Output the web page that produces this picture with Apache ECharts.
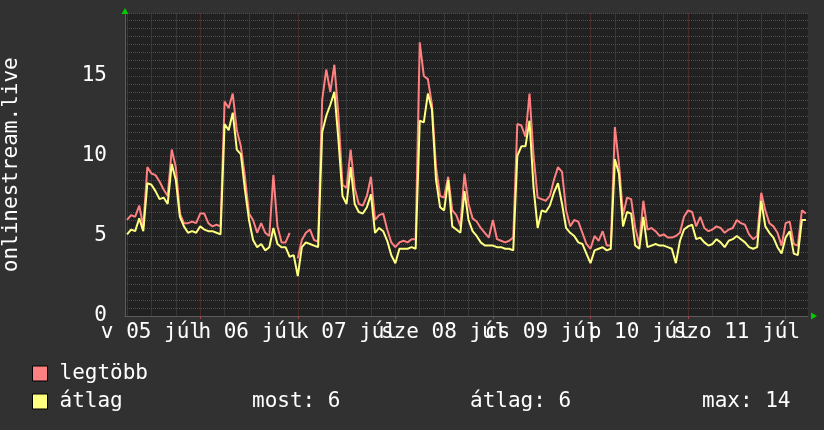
<!DOCTYPE html>
<html><head><meta charset="utf-8">
<script src="https://cdn.jsdelivr.net/npm/echarts@6/dist/echarts.min.js"></script>
<style>html,body{margin:0;padding:0;background:#313131}#c{width:824px;height:430px}</style>
</head><body><div id="c"></div>
<script>
// Hours counted from Sun 05 Jul 00:00; first sample at 06:00, one sample per hour
const startHour = 6;
const dayLabels = ['v 05 júl', 'h 06 júl', 'k 07 júl', 'sze 08 júl', 'cs 09 júl', 'p 10 júl', 'szo 11 júl'];
const dayLabelHours = [12, 36, 60, 84, 108, 132, 156];
const midnightHours = [24, 48, 72, 96, 120, 144, 168];
const minorGridHours = [6, 12, 18, 30, 36, 42, 54, 60, 66, 78, 84, 90, 102, 108, 114, 126, 132, 138, 150, 156, 162];
const yLabelValues = [0, 5, 10, 15];
const seriesNames = ['legtöbb', 'átlag'];
const statLabels = ['most: 6', 'átlag: 6', 'max: 14'];

// legtöbb (max)
const maxValues = [
  6.0, 6.3, 6.2, 6.9, 5.6, 9.3, 8.9, 8.8, 8.4, 7.9, 7.5, 10.4, 9.3, 6.4, 5.8, 5.8, 5.9, 5.8, 6.4, 6.4, 5.8, 5.6, 5.7, 5.6,
  13.4, 13.0, 13.9, 11.6, 10.6, 8.7, 6.4, 6.0, 5.2, 5.8, 5.2, 5.0, 8.8, 5.6, 4.6, 4.6, 5.2, null, 3.6, 4.75, 5.2, 5.4, 4.75, 4.65,
  13.5, 15.4, 14.0, 15.7, 12.5, 8.2, 8.0, 10.4, 8.0, 7.0, 6.9, 7.5, 8.7, 6.0, 6.3, 6.4, 5.4, 4.6, 4.3, 4.6, 4.7, 4.6, 4.8, 4.8,
  17.1, 15.0, 14.8, 13.2, 9.3, 7.5, 7.4, 8.7, 6.6, 6.3, 5.6, 8.9, 7.0, 6.1, 5.9, 5.5, 5.2, 4.9, 6.0, 4.8, 4.7, 4.6, 4.7, 4.9,
  12.0, 11.9, 11.2, 13.9, 10.0, 7.4, 7.3, 7.2, 7.5, 8.5, 9.3, 9.0, 6.6, 5.6, 6.0, 5.9, 5.2, 4.5, 4.2, 5.0, 4.7,
  5.3, 4.4, 4.4, 11.8, 9.5, 6.3, 7.4, 7.3, 5.5, 4.5, 7.2, 5.4, 5.5, 5.3, 5.0, 5.1, 4.9, 4.9, 5.0, 5.2, 6.2, 6.6, 6.5, 5.6, 6.2,
  5.5, 5.3, 5.4, 5.6, 5.5, 5.2, 5.4, 5.5, 6.0, 5.8, 5.7, 5.1, 4.8, 5.0, 7.7, 6.6, 5.8, 5.6, 5.2, 4.4, 5.8, 5.9, 4.5, 4.4, 6.6, 6.4
];
// átlag (average)
const avgValues = [
  5.1, 5.4, 5.3, 6.1, 5.3, 8.3, 8.2, 7.8, 7.3, 7.4, 7.0, 9.5, 8.5, 6.2, 5.6, 5.2, 5.3, 5.2, 5.6, 5.4, 5.3, 5.3, 5.2, 5.1,
  12.0, 11.6, 12.7, 10.4, 10.1, 7.9, 6.0, 4.75, 4.3, 4.5, 4.1, 4.3, 5.5, 4.5, 4.3, 4.3, 3.7, 3.8, 2.5, 4.3, 4.6, 4.5, 4.4, 4.3,
  11.5, 12.5, 13.2, 14.0, 11.0, 7.5, 7.0, 9.3, 7.0, 6.5, 6.4, 6.8, 7.6, 5.2, 5.5, 5.3, 4.7, 3.8, 3.3, 4.2, 4.2, 4.2, 4.3, 4.2,
  12.2, 12.1, 13.9, 12.9, 8.5, 6.8, 6.6, 8.5, 5.6, 5.4, 5.2, 7.8, 6.0, 5.3, 5.0, 4.6, 4.4, 4.4, 4.4, 4.3, 4.3, 4.2, 4.2, 4.1,
  10.0, 10.6, 10.6, 12.2, 8.0, 5.5, 6.6, 6.5, 6.9, 7.7, 8.3, 7.0, 5.5, 5.2, 5.0, 4.6, 4.5, 3.9, 3.3, 4.1, 4.2,
  4.3, 4.1, 4.2, 9.8, 8.9, 5.6, 6.5, 6.4, 4.4, 4.2, 6.2, 4.3, 4.4, 4.5, 4.4, 4.4, 4.3, 4.2, 3.3, 4.7, 5.4, 5.6, 5.7, 4.8, 4.9,
  4.6, 4.4, 4.5, 4.8, 4.6, 4.3, 4.7, 4.8, 5.0, 4.8, 4.6, 4.3, 4.2, 4.3, 7.2, 5.6, 5.2, 4.9, 4.3, 3.9, 4.9, 5.3, 3.9, 3.8, 6.0, 6.0
];

const FONT = 'DejaVu Sans Mono';
const TXT = '#ffffff';
const X_MIN = 5.5, X_MAX = 173.5, Y_MIN = 0, Y_MAX = 18.9;
const RED = '#ff8080', YEL = '#ffff80';
const MINOR = '#4d4d4d', MAJOR = '#6e3838';

const toPairs = vals => vals.map((v, i) => [startHour + i, v]);
// labels overlap each other, so split them over two axes (even / odd days)
const evenLabelHours = dayLabelHours.filter((h, i) => i % 2 === 0);
const oddLabelHours = dayLabelHours.filter((h, i) => i % 2 === 1);

const labelAxis = hours => ({
  type: 'value', position: 'bottom', min: X_MIN, max: X_MAX,
  axisLine: {show: false}, axisTick: {show: false, customValues: hours}, splitLine: {show: false},
  axisLabel: {
    customValues: hours,
    formatter: v => dayLabels[dayLabelHours.indexOf(v)],
    color: TXT, fontSize: 21, fontFamily: FONT, margin: 6,
    showMinLabel: true, showMaxLabel: true, hideOverlap: false
  }
});

const legendBase = {
  orient: 'vertical', left: 32, padding: 0, itemWidth: 15, itemHeight: 15,
  icon: 'rect', selectedMode: false,
  itemStyle: {borderColor: '#000000', borderWidth: 1},
  textStyle: {color: TXT, fontSize: 21, fontFamily: FONT, padding: [0, 0, 0, 7]}
};

const chart = echarts.init(document.getElementById('c'), null, {renderer: 'canvas'});
chart.setOption({
  animation: false,
  backgroundColor: '#313131',
  textStyle: {fontFamily: FONT},
  grid: {left: 125, right: 16, top: 13.5, bottom: 114, show: true, backgroundColor: '#212121', borderWidth: 0,
    containLabel: false, outerBoundsMode: 'none'},
  xAxis: [
    { // minor vertical grid
      type: 'value', position: 'bottom', min: X_MIN, max: X_MAX,
      axisLine: {show: false},
      axisTick: {show: false, customValues: minorGridHours},
      axisLabel: {show: false},
      splitLine: {show: true, lineStyle: {color: MINOR, width: 1, type: [1, 1]}}
    },
    { // major grid, axis line
      type: 'value', position: 'bottom', min: X_MIN, max: X_MAX,
      axisLine: {show: true, onZero: false, lineStyle: {color: '#5c5c5c', width: 1}},
      axisTick: {show: true, customValues: midnightHours, length: 3, lineStyle: {color: '#a04848'}},
      axisLabel: {show: false},
      splitLine: {show: true, lineStyle: {color: MAJOR, width: 1, type: [1, 1]}}
    },
    labelAxis(evenLabelHours),
    labelAxis(oddLabelHours),
    { // arrow
      type: 'value', position: 'bottom', min: X_MIN, max: X_MAX,
      axisLine: {show: true, onZero: false, symbol: ['none', 'triangle'], symbolSize: [7, 6], symbolOffset: [0, 6],
        lineStyle: {color: '#00cc00', width: 0}},
      axisTick: {show: false}, axisLabel: {show: false}, splitLine: {show: false}
    }
  ],
  yAxis: [
    { // minor horizontal grid
      type: 'value', position: 'left', min: Y_MIN, max: Y_MAX, interval: 0.5,
      axisLine: {show: false}, axisTick: {show: false}, axisLabel: {show: false},
      splitLine: {show: true, lineStyle: {color: MINOR, width: 1, type: [1, 1]}}
    },
    { // major grid, labels
      type: 'value', position: 'left', min: Y_MIN, max: Y_MAX,
      axisLine: {show: true, onZero: false, lineStyle: {color: '#5c5c5c', width: 1}},
      axisTick: {show: false, customValues: yLabelValues},
      axisLabel: {customValues: yLabelValues, color: TXT, fontSize: 21, fontFamily: FONT, margin: 18,
        showMinLabel: true, showMaxLabel: true},
      splitLine: {show: true, lineStyle: {color: MAJOR, width: 1, type: [1, 1]}},
      name: 'onlinestream.live', nameLocation: 'middle', nameGap: 103,
      nameTextStyle: {color: TXT, fontSize: 21, fontFamily: FONT}
    },
    { // arrow
      type: 'value', position: 'left', min: Y_MIN, max: Y_MAX,
      axisLine: {show: true, onZero: false, symbol: ['none', 'triangle'], symbolSize: [7, 6], symbolOffset: [0, 2.5],
        lineStyle: {color: '#00cc00', width: 0}},
      axisTick: {show: false}, axisLabel: {show: false}, splitLine: {show: false}
    }
  ],
  legend: [
    Object.assign({}, legendBase, {top: 363, data: [seriesNames[0]]}),
    Object.assign({}, legendBase, {top: 391, data: [seriesNames[1]]})
  ],
  graphic: [
    {type: 'text', x: 252, y: 402, style: {text: statLabels[0], fill: TXT, font: '21px "DejaVu Sans Mono"', verticalAlign: 'middle'}},
    {type: 'text', x: 470, y: 402, style: {text: statLabels[1], fill: TXT, font: '21px "DejaVu Sans Mono"', verticalAlign: 'middle'}},
    {type: 'text', x: 702, y: 402, style: {text: statLabels[2], fill: TXT, font: '21px "DejaVu Sans Mono"', verticalAlign: 'middle'}}
  ],
  series: [
    {name: seriesNames[0], type: 'line', xAxisIndex: 1, yAxisIndex: 1, data: toPairs(maxValues),
      symbol: 'none', connectNulls: false,
      lineStyle: {color: RED, width: 2}, itemStyle: {color: RED}},
    {name: seriesNames[1], type: 'line', xAxisIndex: 1, yAxisIndex: 1, data: toPairs(avgValues),
      symbol: 'none', connectNulls: false,
      lineStyle: {color: YEL, width: 2}, itemStyle: {color: YEL}}
  ]
});
</script></body></html>
